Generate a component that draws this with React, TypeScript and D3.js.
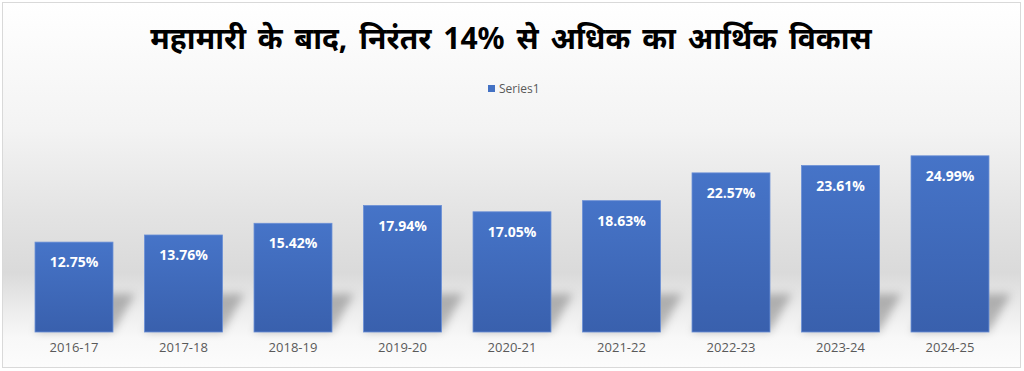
import React, { useEffect, useRef } from "react";
import * as d3 from "d3";

const years = ["2016-17", "2017-18", "2018-19", "2019-20", "2020-21", "2021-22", "2022-23", "2023-24", "2024-25"];
const growth = [12.75, 13.76, 15.42, 17.94, 17.05, 18.63, 22.57, 23.61, 24.99];
const title = "महामारी के बाद, निरंतर 14% से अधिक का आर्थिक विकास";
const seriesName = "Series1";

const App = () => {
  const ref = useRef<SVGSVGElement | null>(null);

  useEffect(() => {
    if (!ref.current) return;
    const svg = d3.select(ref.current);
    svg.selectAll("*").remove();

    const width = 1024;
    const bottom = 332;
    const top = 120.5;

    const defs = svg.append("defs");

    // chart area background
    const bg = defs
      .append("linearGradient")
      .attr("id", "bg")
      .attr("x1", 0)
      .attr("y1", 0)
      .attr("x2", 0)
      .attr("y2", 1);
    [
      [0, "#ffffff"],
      [0.35, "#f3f3f3"],
      [0.6, "#e2e2e2"],
      [0.74, "#dadada"],
      [0.84, "#ececec"],
      [0.92, "#f8f8f8"],
      [1, "#fcfcfc"],
    ].forEach(([o, c]) => bg.append("stop").attr("offset", o as number).attr("stop-color", c as string));

    const barGrad = defs
      .append("linearGradient")
      .attr("id", "bar")
      .attr("x1", 0)
      .attr("y1", 0)
      .attr("x2", 0)
      .attr("y2", 1);
    barGrad.append("stop").attr("offset", 0).attr("stop-color", "#4674c8");
    barGrad.append("stop").attr("offset", 1).attr("stop-color", "#3960ad");

    defs
      .append("filter")
      .attr("id", "blur")
      .attr("x", "-50%")
      .attr("y", "-50%")
      .attr("width", "200%")
      .attr("height", "200%")
      .append("feGaussianBlur")
      .attr("stdDeviation", 4);

    svg
      .append("rect")
      .attr("x", 2.5)
      .attr("y", 2.5)
      .attr("width", 1018)
      .attr("height", 365)
      .attr("fill", "url(#bg)")
      .attr("stroke", "#d9d9d9");

    const x = d3
      .scaleBand()
      .domain(years)
      .range([19.25, 1004.75])
      .paddingInner(0.288)
      .paddingOuter(0.144);
    const y = d3.scaleLinear().domain([0, 30]).range([bottom, top]);

    const data = years.map((yr, i) => ({ yr, v: growth[i] }));

    // soft shadows behind bars
    svg
      .append("g")
      .attr("filter", "url(#blur)")
      .selectAll("path")
      .data(data)
      .join("path")
      .attr("d", (d) => {
        const x0 = x(d.yr)!;
        const x1 = x0 + x.bandwidth();
        return `M${x0},${bottom} L${x1},${bottom} L${x1 + 22},${bottom - 38} L${x0 + 22},${bottom - 38} Z`;
      })
      .attr("fill", "#000")
      .attr("opacity", 0.25);

    svg
      .append("g")
      .selectAll("rect")
      .data(data)
      .join("rect")
      .attr("x", (d) => x(d.yr)!)
      .attr("y", (d) => y(d.v))
      .attr("width", x.bandwidth())
      .attr("height", (d) => bottom - y(d.v))
      .attr("fill", "url(#bar)")
      .attr("stroke", "#6a8fd6")
      .attr("stroke-width", 0.8);

    svg
      .append("g")
      .selectAll("text")
      .data(data)
      .join("text")
      .attr("x", (d) => x(d.yr)! + x.bandwidth() / 2)
      .attr("y", (d) => y(d.v) + 25)
      .attr("text-anchor", "middle")
      .attr("fill", "#ffffff")
      .attr("font-family", "'Open Sans', sans-serif")
      .attr("font-weight", 700)
      .attr("font-size", 14)
      .text((d) => d.v.toFixed(2) + "%");

    // x axis labels
    const axis = svg
      .append("g")
      .attr("transform", `translate(0,${bottom})`)
      .call(d3.axisBottom(x).tickSize(0).tickPadding(11));
    axis.select(".domain").remove();
    axis
      .selectAll("text")
      .attr("fill", "#595959")
      .attr("font-family", "'Open Sans', sans-serif")
      .attr("font-size", 13);

    // title
    svg
      .append("text")
      .attr("x", width / 2 - 1)
      .attr("y", 49)
      .attr("text-anchor", "middle")
      .attr("font-family", "'Noto Sans', sans-serif")
      .attr("font-weight", 700)
      .attr("font-size", 30)
      .attr("word-spacing", 4)
      .attr("fill", "#000")
      .text(title);

    // legend
    const lg = svg.append("g").attr("transform", "translate(488,85)");
    lg.append("rect").attr("width", 7).attr("height", 7).attr("fill", "#4472c4");
    lg.append("text")
      .attr("x", 11)
      .attr("y", 7.5)
      .attr("fill", "#595959")
      .attr("font-family", "'Open Sans', sans-serif")
      .attr("font-size", 12)
      .text(seriesName);
  }, []);

  return (
    <svg
      ref={ref}
      width={1024}
      height={371}
      style={{ position: "absolute", left: 0, top: 0, display: "block" }}
    />
  );
};

export default App;
